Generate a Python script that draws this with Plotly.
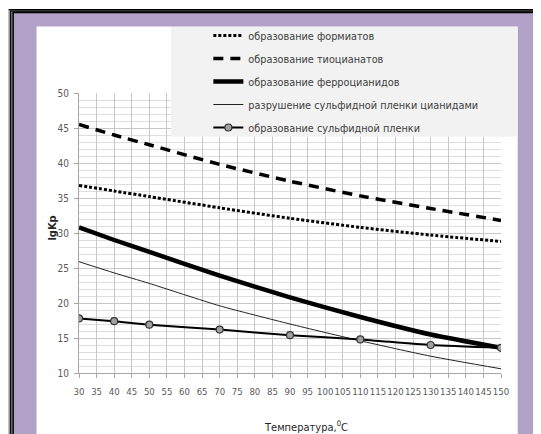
import plotly.graph_objects as go

# ---- data ----
temperature = [30, 40, 50, 70, 90, 110, 130, 150]
formates = [36.8, 36.0, 35.2, 33.6, 32.1, 30.8, 29.7, 28.8]
thiocyanates = [45.5, 44.0, 42.6, 39.8, 37.4, 35.3, 33.5, 31.8]
ferrocyanides = [30.8, 29.0, 27.3, 23.9, 20.8, 18.0, 15.5, 13.6]
film_destruction = [25.9, 24.3, 22.8, 19.6, 17.0, 14.6, 12.4, 10.6]
film_formation = [17.8, 17.4, 16.9, 16.2, 15.4, 14.8, 14.0, 13.6]

series_names = [
    "образование формиатов",
    "образование тиоцианатов",
    "образование ферроцианидов",
    "разрушение сульфидной пленки цианидами",
    "образование сульфидной пленки",
]
x_ticks = list(range(30, 151, 5))
y_ticks = list(range(10, 51, 5))

W, H = 541, 434
OFF = 8  # page body margin: figure starts 8px in on screen
ML, MR, MT, MB = 70.5, 48, 85, 69
PW, PH = W - ML - MR, H - MT - MB

FONT = "DejaVu Sans Condensed, Liberation Sans Narrow, Liberation Sans, sans-serif"


def px2x(px):  # screen px -> paper x
    return (px - OFF - ML) / PW


def py2y(py):  # screen py -> paper y
    return (H - MB - (py - OFF)) / PH


fig = go.Figure()
fig.add_trace(go.Scatter(x=temperature, y=formates, name=series_names[0], legendgroup="a",
                         line=dict(color="black", width=3, dash="3px,2px", shape="spline", smoothing=0.6),
                         mode="lines"))
fig.add_trace(go.Scatter(x=temperature, y=thiocyanates, name=series_names[1], legendgroup="b",
                         line=dict(color="black", width=3.5, dash="10px,7px", shape="spline", smoothing=0.6),
                         mode="lines"))
fig.add_trace(go.Scatter(x=temperature, y=ferrocyanides, name=series_names[2], legendgroup="c",
                         line=dict(color="black", width=4.5, shape="spline", smoothing=0.6),
                         mode="lines"))
fig.add_trace(go.Scatter(x=temperature, y=film_destruction, name=series_names[3], legendgroup="d",
                         line=dict(color="#222222", width=1, shape="spline", smoothing=0.6),
                         mode="lines"))
fig.add_trace(go.Scatter(x=temperature, y=film_formation, name=series_names[4], legendgroup="e",
                         line=dict(color="black", width=2, shape="spline", smoothing=0.6),
                         mode="lines+markers",
                         marker=dict(symbol="circle", size=7, color="#a0a0a0",
                                     line=dict(color="#333333", width=1.2))))

shapes = []


def rect(x0, y0, x1, y1, fill, layer="below"):
    shapes.append(dict(type="rect", xref="paper", yref="paper",
                       x0=px2x(x0), x1=px2x(x1), y0=py2y(y0), y1=py2y(y1),
                       fillcolor=fill, line=dict(width=0), layer=layer))


# frame (screen coordinates)
rect(8, 9, 600, 500, "black")
rect(8, 10.3, 600, 500, "white")
rect(9, 10.3, 600, 500, "black")
rect(10.3, 11.6, 600, 500, "#666666")
rect(12, 11.6, 600, 500, "black")
rect(13.3, 13.3, 600, 500, "#b2a1c7")
rect(36, 26.5, 517.7, 500, "white")
# legend background box
rect(170.5, 27, 517.7, 136.7, "#f2f2f2", layer="above")

fig.update_layout(
    width=W, height=H,
    margin=dict(l=ML, r=MR, t=MT, b=MB),
    paper_bgcolor="white", plot_bgcolor="white",
    font=dict(family=FONT, size=11, color="#595959"),
    shapes=shapes,
    showlegend=True,
    legend=dict(
        x=px2x(208), y=py2y(21), xanchor="left", yanchor="top",
        bgcolor="rgba(0,0,0,0)", borderwidth=0,
        font=dict(family=FONT, size=10.8, color="#404040"),
        tracegroupgap=4, itemwidth=30,
    ),
    xaxis=dict(
        range=[30, 150], tickmode="array", tickvals=x_ticks, ticktext=[str(v) for v in x_ticks],
        tickangle=0, automargin=False, ticklabelstandoff=6,
        showgrid=True, gridcolor="#c8c8c8", gridwidth=1,
        showline=True, linecolor="#a6a6a6", linewidth=1,
        ticks="outside", ticklen=4, tickcolor="#a6a6a6",
        tickfont=dict(family=FONT, size=9.5, color="#595959"),
        zeroline=False, fixedrange=True,
    ),
    yaxis=dict(
        range=[10, 50], tickmode="linear", tick0=y_ticks[0], dtick=y_ticks[1] - y_ticks[0],
        automargin=False, ticklabelstandoff=3,
        showgrid=True, gridcolor="#c8c8c8", gridwidth=1,
        minor=dict(dtick=1, showgrid=True, gridcolor="#dedede", gridwidth=1),
        showline=True, linecolor="#a6a6a6", linewidth=1,
        ticks="outside", ticklen=4, tickcolor="#a6a6a6",
        tickfont=dict(family=FONT, size=10, color="#595959"),
        zeroline=False, fixedrange=True,
    ),
    annotations=[
        dict(text="<b>lgKp</b>", xref="paper", yref="paper", x=px2x(51), y=py2y(228),
             showarrow=False, textangle=-90, font=dict(family=FONT, size=11, color="#262626"),
             xanchor="center", yanchor="middle"),
        dict(text="Температура,<sup>0</sup>С", xref="paper", yref="paper", x=px2x(306), y=py2y(426),
             showarrow=False, font=dict(family=FONT, size=11, color="#262626"),
             xanchor="center", yanchor="middle"),
    ],
)

fig.write_html("out.html")
